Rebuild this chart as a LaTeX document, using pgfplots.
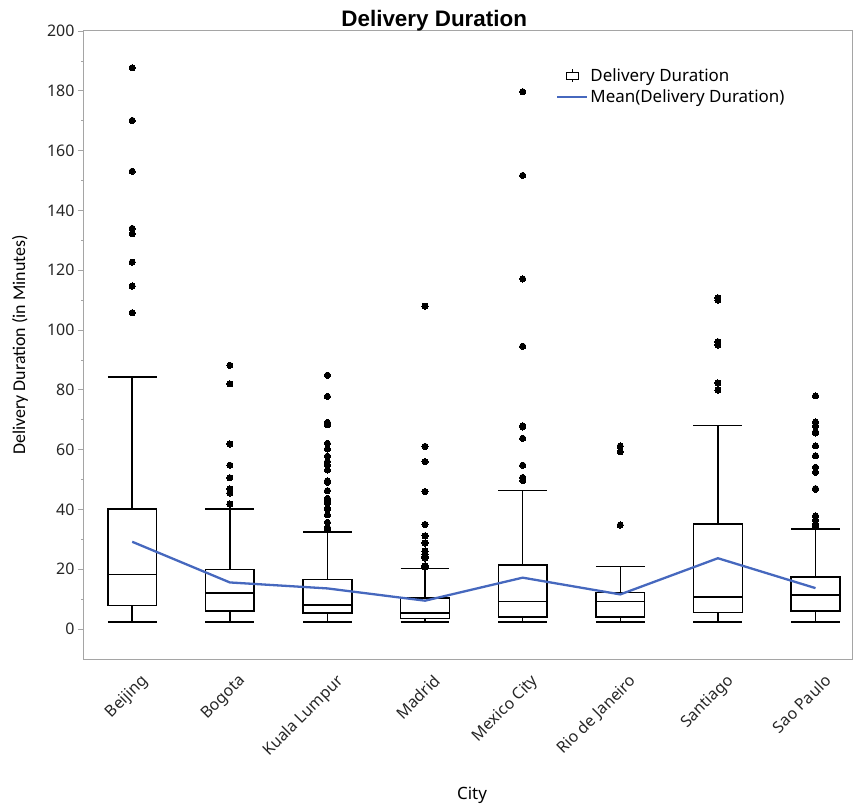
\documentclass[border=0pt]{standalone}
\usepackage{fontspec}
\setmainfont{Noto Sans}
\newfontfamily\ylabfont{Carlito}
\newfontfamily\titlefont{Liberation Sans}
\usepackage{pgfplots}
\pgfplotsset{compat=1.18}
\usepgfplotslibrary{statistics}
\definecolor{meanblue}{RGB}{70,104,190}
\definecolor{axgray}{RGB}{165,165,165}
\begin{document}
\begin{tikzpicture}
\begin{axis}[
  scale only axis,
  width=768bp, height=628bp,
  xmin=-0.494, xmax=7.374,
  ymin=-10, ymax=200,
  ytick={0,20,...,200},
  minor ytick={10,30,...,190},
  ytick pos=left,
  tick align=outside,
  major tick length=6bp,
  minor tick length=3bp,
  every tick/.style={axgray, line width=0.8bp},
  xtick={0,1,2,3,4,5,6,7},
  xticklabels={Beijing,Bogota,Kuala Lumpur,Madrid,Mexico City,Rio de Janeiro,Santiago,Sao Paulo},
  major x tick style={draw=none},
  axis line style={axgray, line width=1bp},
  /pgf/number format/assume math mode=true,
  yticklabel style={font=\fontsize{16}{18}\selectfont, text=black!85},
  xticklabel style={font=\fontsize{16}{18}\selectfont, text=black!85, rotate=45, anchor=north east, xshift=3bp, yshift=-8bp},
  title={Delivery Duration},
  title style={at={(0.456,1)}, anchor=south, inner sep=1bp, yshift=-7bp, font=\titlefont\bfseries\fontsize{22.5}{25}\selectfont},
  xlabel={City},
  ylabel={Delivery Duration (in Minutes)},
  every axis x label/.style={at={(axis description cs:0.5,0)}, xshift=4bp, yshift=-136bp, anchor=center, font=\fontsize{17}{19}\selectfont},
  every axis y label/.style={at={(axis description cs:0,0.5)}, xshift=-64bp, rotate=90, anchor=center, font=\ylabfont\fontsize{18}{20}\selectfont},
  legend style={at={(0.6146,0.944)}, anchor=north west, draw=none, fill=none, font=\fontsize{17}{19}\selectfont, row sep=3bp, inner sep=0pt},
  legend cell align=left,
  boxplot/draw direction=y,
  boxplot/box extend=0.5,
  boxplot/whisker extend=0.5,
  boxplot/every box/.style={draw=black, line width=1.5bp},
  boxplot/every whisker/.style={black, line width=1.5bp},
  boxplot/every median/.style={black, line width=1.5bp},
  outl/.style={forget plot, only marks, mark=*, mark size=3.1bp, mark options={fill=black, draw=black, line width=0bp}},
  bx/.style={forget plot, black, line width=1.5bp, mark=none},
]
\addlegendimage{legend image code/.code={
  \draw[black, line width=1bp] (8bp,-3.5bp) rectangle (20bp,3.5bp);
  \draw[black, line width=1bp] (14bp,3.5bp) -- (14bp,6.5bp);
  \draw[black, line width=1bp] (14bp,-3.5bp) -- (14bp,-6.5bp);}}
\addlegendentry{Delivery Duration}
\addlegendimage{legend image code/.code={
  \draw[meanblue, line width=2.2bp] (-1bp,0bp) -- (29bp,0bp);}}
\addlegendentry{Mean(Delivery Duration)}

% Boxes (whiskers, quartiles, medians)
\addplot[bx, boxplot prepared={draw position=0, lower whisker=2.3, lower quartile=7.9, median=18.2, upper quartile=40.2, upper whisker=84.3}] coordinates {};
\addplot[bx, boxplot prepared={draw position=1, lower whisker=2.3, lower quartile=6.0, median=12.0, upper quartile=19.9, upper whisker=40.2}] coordinates {};
\addplot[bx, boxplot prepared={draw position=2, lower whisker=2.4, lower quartile=5.3, median=8.1, upper quartile=16.6, upper whisker=32.5}] coordinates {};
\addplot[bx, boxplot prepared={draw position=3, lower whisker=2.4, lower quartile=3.6, median=5.3, upper quartile=10.4, upper whisker=20.3}] coordinates {};
\addplot[bx, boxplot prepared={draw position=4, lower whisker=2.3, lower quartile=4.0, median=9.2, upper quartile=21.5, upper whisker=46.3}] coordinates {};
\addplot[bx, boxplot prepared={draw position=5, lower whisker=2.3, lower quartile=4.0, median=9.2, upper quartile=12.3, upper whisker=20.9}] coordinates {};
\addplot[bx, boxplot prepared={draw position=6, lower whisker=2.3, lower quartile=5.6, median=10.8, upper quartile=35.1, upper whisker=68.1}] coordinates {};
\addplot[bx, boxplot prepared={draw position=7, lower whisker=2.3, lower quartile=6.1, median=11.4, upper quartile=17.5, upper whisker=33.4}] coordinates {};

% Outliers
\addplot[outl] coordinates {(0,187.7) (0,170.1) (0,153.1) (0,134.0) (0,132.2) (0,122.7) (0,114.7) (0,105.8)};
\addplot[outl] coordinates {(1,88.2) (1,82.0) (1,61.9) (1,54.8) (1,50.6) (1,46.9) (1,45.5) (1,41.8)};
\addplot[outl] coordinates {(2,84.9) (2,77.8) (2,69.1) (2,68.3) (2,62.1) (2,60.2) (2,57.8) (2,56.0) (2,54.8) (2,53.2) (2,49.6) (2,49.1) (2,46.3) (2,43.7) (2,42.9) (2,42.1) (2,40.4) (2,40.2) (2,38.2) (2,35.7) (2,34.0) (2,33.2)};
\addplot[outl] coordinates {(3,108.0) (3,61.1) (3,56.0) (3,46.0) (3,35.0) (3,31.2) (3,28.8) (3,26.1) (3,25.0) (3,24.3) (3,23.8) (3,21.2) (3,20.8)};
\addplot[outl] coordinates {(4,179.7) (4,151.7) (4,117.1) (4,94.6) (4,68.0) (4,67.6) (4,63.8) (4,54.8) (4,50.7) (4,49.7)};
\addplot[outl] coordinates {(5,61.2) (5,59.3) (5,34.8)};
\addplot[outl] coordinates {(6,110.8) (6,110.0) (6,96.1) (6,95.0) (6,82.3) (6,79.9)};
\addplot[outl] coordinates {(7,78.0) (7,69.3) (7,68.0) (7,66.0) (7,65.6) (7,61.3) (7,58.0) (7,54.1) (7,52.4) (7,47.0) (7,46.8) (7,37.9) (7,36.5) (7,35.1) (7,34.6)};

% Mean line
\addplot[forget plot, meanblue, line width=2.3bp, mark=none]
  coordinates {(0,29.2) (1,15.6) (2,13.6) (3,9.5) (4,17.2) (5,11.6) (6,23.7) (7,13.7)};
\end{axis}
\pgfresetboundingbox
\useasboundingbox (-84bp,-148bp) rectangle (770bp,659bp);
\end{tikzpicture}
\end{document}
